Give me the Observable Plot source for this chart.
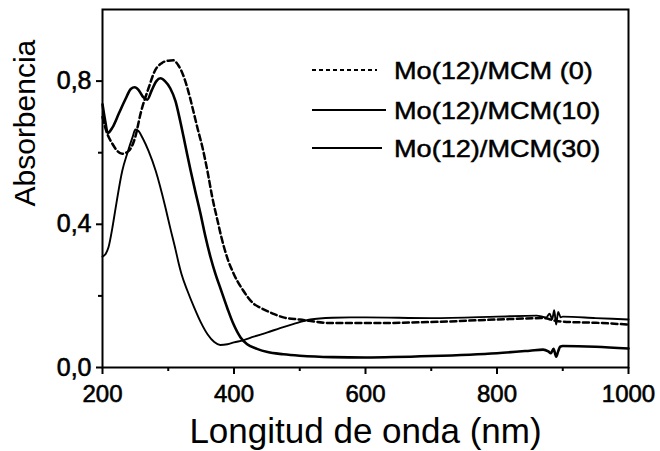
<!DOCTYPE html>
<html><head><meta charset="utf-8">
<script src="https://cdn.jsdelivr.net/npm/d3@7"></script>
<script src="https://cdn.jsdelivr.net/npm/@observablehq/plot@0.6"></script>
<style>
body{margin:0;background:#fff;}
#wrap{position:relative;width:660px;height:451px;}
#wrap svg{font-family:"Liberation Sans", Arial, sans-serif;}
#legend{position:absolute;left:0;top:0;pointer-events:none;}
</style></head><body><div id="wrap"></div>
<script>
const seriesNames = ["Mo(12)/MCM (0)", "Mo(12)/MCM(10)", "Mo(12)/MCM(30)"];
const xTicks = [200, 400, 600, 800, 1000];
const xMinor = [300, 500, 700, 900];
const yTicks = [0, 0.4, 0.8];
const yMinor = [0.2, 0.6];
const xLabel = "Longitud de onda (nm)";
const yLabel = "Absorbencia";

const wl0 = [200,205,215,230,240,250,258,270,280,290,300,308,315,322,330,337,345,352,360,367,375,380,390,400,414,430,440,460,475,500,550,600,700,800,870,880,885,890,900,950,1000];
const abs0 = [0.70,0.665,0.625,0.597,0.605,0.645,0.71,0.78,0.83,0.85,0.857,0.858,0.845,0.82,0.775,0.725,0.665,0.615,0.545,0.475,0.41,0.37,0.305,0.26,0.215,0.178,0.167,0.15,0.14,0.134,0.124,0.124,0.127,0.134,0.138,0.135,0.132,0.13,0.128,0.125,0.12];

const wl10 = [200,204,208,215,225,235,243,249,255,262,268,275,282,288,295,303,311,318,326,334,341,349,356,364,372,379,390,399,410,420,435,451,475,500,550,600,700,800,850,870,878,882,886,890,893,896,900,950,1000];
const abs10 = [0.735,0.69,0.655,0.67,0.71,0.75,0.778,0.783,0.775,0.755,0.748,0.775,0.8,0.808,0.8,0.78,0.744,0.69,0.62,0.55,0.493,0.43,0.37,0.31,0.26,0.223,0.165,0.122,0.084,0.065,0.052,0.043,0.037,0.033,0.029,0.028,0.032,0.04,0.047,0.05,0.045,0.04,0.052,0.03,0.045,0.058,0.06,0.058,0.053];

const wl30 = [200,205,209,215,220,230,238,246,250,255,261,270,281,296,303,311,316,320,329,340,349,360,370,379,390,400,414,430,451,470,491,516,550,577,600,700,800,860,875,880,884,887,890,893,897,900,950,1000];
const abs30 = [0.31,0.318,0.335,0.39,0.446,0.549,0.6,0.645,0.665,0.66,0.641,0.605,0.549,0.445,0.39,0.33,0.29,0.262,0.215,0.165,0.128,0.092,0.071,0.063,0.065,0.07,0.076,0.086,0.098,0.11,0.122,0.134,0.139,0.14,0.14,0.138,0.142,0.145,0.14,0.15,0.135,0.16,0.12,0.155,0.14,0.142,0.138,0.134];

const toRows = (wl, a, s) => wl.map((x, i) => ({x, y: a[i], s}));
const d0 = toRows(wl0, abs0, seriesNames[0]);
const d10 = toRows(wl10, abs10, seriesNames[1]);
const d30 = toRows(wl30, abs30, seriesNames[2]);

const styles = [
  {strokeWidth: 2.5, strokeDasharray: "6,3.5"},
  {strokeWidth: 2.6, strokeDasharray: null},
  {strokeWidth: 1.9, strokeDasharray: null}
];

const fmt = d => d.toFixed(1).replace(".", ",");
const font = "'Liberation Sans', Arial, sans-serif";

const chart = Plot.plot({
  width: 660, height: 451,
  marginLeft: 102, marginRight: 32, marginTop: 9, marginBottom: 84,
  style: {fontFamily: font, background: "#fff", color: "#000"},
  x: {domain: [200, 1000]},
  y: {domain: [0, 1]},
  marks: [
    Plot.axisX({ticks: xTicks, tickSize: 7, tickPadding: 10, fontSize: 24, label: null, tickFormat: d => String(d), strokeWidth: 2}),
    Plot.axisX({ticks: xMinor, tickSize: 4, label: null, tickFormat: () => "", strokeWidth: 2}),
    Plot.axisY({ticks: yTicks, tickSize: 6, tickPadding: 5, fontSize: 25, label: null, tickFormat: fmt, strokeWidth: 2}),
    Plot.axisY({ticks: yMinor, tickSize: 4, label: null, tickFormat: () => "", strokeWidth: 2}),
    Plot.frame({stroke: "#000", strokeWidth: 2}),
    Plot.line(d0, {x: "x", y: "y", stroke: "#000", curve: "monotone-x", strokeLinejoin: "round", ...styles[0]}),
    Plot.line(d10, {x: "x", y: "y", stroke: "#000", curve: "monotone-x", strokeLinejoin: "round", ...styles[1]}),
    Plot.line(d30, {x: "x", y: "y", stroke: "#000", curve: "monotone-x", strokeLinejoin: "round", ...styles[2]}),
    Plot.text([xLabel], {frameAnchor: "bottom", dy: 75, lineAnchor: "bottom", fontSize: 35, fill: "#000"}),
    Plot.text([yLabel], {frameAnchor: "left", dx: -77, dy: 18, rotate: -90, lineAnchor: "middle", fontSize: 30, fill: "#000"})
  ]
});
const wrap = document.getElementById("wrap");
wrap.appendChild(chart);
// heavier tick labels, as in the scanned original
d3.select(chart).selectAll("g[aria-label$='tick label'] text").attr("stroke", "#000").attr("stroke-width", 0.6);

// legend (inside plot, top right)
const leg = d3.select(wrap).append("svg").attr("id", "legend").attr("width", 660).attr("height", 451);
const rowsY = [70, 110, 148];
const lineEnd = [377, 386, 382];
seriesNames.forEach((name, i) => {
  leg.append("line").attr("x1", 312).attr("x2", lineEnd[i]).attr("y1", rowsY[i]).attr("y2", rowsY[i])
    .attr("stroke", "#000").attr("stroke-width", i === 2 ? 1.8 : 2)
    .attr("stroke-dasharray", i === 0 ? "4,3" : null);
  leg.append("text").attr("transform", `translate(394,${rowsY[i] + 8.5}) scale(1.13,1)`)
    .attr("font-size", 24).attr("font-family", font).attr("fill", "#000")
    .attr("stroke", "#000").attr("stroke-width", 0.5).text(name);
});
</script>
</body></html>
